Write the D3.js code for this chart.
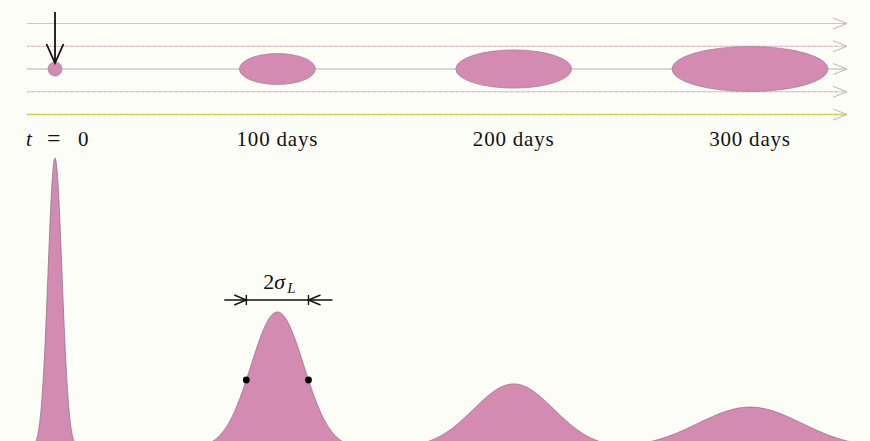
<!DOCTYPE html>
<html>
<head>
<meta charset="utf-8">
<script src="https://cdn.jsdelivr.net/npm/d3@7"></script>
<style>
  body { margin: 0; background: #fdfdf8; }
  svg { display: block; }
</style>
</head>
<body>
<svg id="chart" width="870" height="441"></svg>
<script>
// plume snapshots
const days = [0, 100, 200, 300];
const labels = ["t = 0", "100 days", "200 days", "300 days"];
const position = [0, 96, 198, 300];          // centre of plume, distance units
const plumeHalfLength = [3.0, 16.4, 25.0, 33.7];
const plumeHalfWidth = [0.31, 0.68, 0.84, 0.99];
// concentration profiles along the centre line
const peakConc = [1.0, 0.469, 0.221, 0.141];
const sigmaL = [3.0, 11.4, 17.3, 22.3];
// streamlines (lateral offset)
const flowLines = [-2, -1, 0, 1, 2];

var svg = d3.select("#chart"),
    width = +svg.attr("width"),
    height = +svg.attr("height");

var pink = "#d48bb2";

var x = d3.scaleLinear().domain([0, 300]).range([55, 750]);
var pxPerUnit = x(1) - x(0);
var yT = d3.scaleLinear().domain([-2, 2]).range([23.5, 114.5]);   // top panel, lateral
var yC = d3.scaleLinear().domain([0, 1]).range([448, 158]);       // bottom panel, concentration

svg.append("rect").attr("width", width).attr("height", height).attr("fill", "#fdfdf8");

// Streamlines
var lineStyle = {
    "-2": { c: "#c6c6c6", dash: null, over: null },
    "-1": { c: "#d2c6cc", dash: null, over: "#eaa2c4" },
    "0": { c: "#b4b4b4", dash: null, over: null },
    "1": { c: "#d2c6cc", dash: null, over: "#eaa2c4" },
    "2": { c: "#dcd060", dash: null, over: "#c8bc30" }
};
var x0 = 27, x1 = 847;
var flow = svg.selectAll(".flow")
    .data(flowLines)
    .enter().append("g")
    .attr("class", "flow");

flow.append("line")
    .attr("x1", x0).attr("x2", x1)
    .attr("y1", d => yT(d)).attr("y2", d => yT(d))
    .attr("stroke", d => lineStyle[d].c)
    .attr("stroke-width", d => d == 2 ? 1.6 : 1.2);

flow.filter(d => lineStyle[d].over)
    .append("line")
    .attr("x1", x0).attr("x2", x1 - 2)
    .attr("y1", d => yT(d)).attr("y2", d => yT(d))
    .attr("stroke", d => lineStyle[d].over)
    .attr("stroke-width", 1)
    .attr("stroke-dasharray", "1.5,4");

flow.append("path")
    .attr("d", d => `M${x1 - 14},${yT(d) - 5.5}L${x1},${yT(d)}L${x1 - 14},${yT(d) + 5.5}`)
    .attr("fill", "none")
    .attr("stroke", "#bdb6ba")
    .attr("stroke-width", 1);

// Plumes
svg.selectAll(".plume")
    .data(days)
    .enter().append("ellipse")
    .attr("class", "plume")
    .attr("cx", (d, i) => x(position[i]))
    .attr("cy", yT(0))
    .attr("rx", (d, i) => plumeHalfLength[i] * pxPerUnit)
    .attr("ry", (d, i) => (yT(plumeHalfWidth[i]) - yT(0)))
    .attr("fill", pink)
    .attr("stroke", "#a07c90")
    .attr("stroke-width", 0.7);

// Injection arrow
var ax = x(position[0]);
svg.append("line")
    .attr("x1", ax).attr("x2", ax)
    .attr("y1", 12).attr("y2", 63)
    .attr("stroke", "#111").attr("stroke-width", 1.8);
svg.append("path")
    .attr("d", `M${ax - 8.5},44L${ax},63L${ax + 8.5},44`)
    .attr("fill", "none").attr("stroke", "#111").attr("stroke-width", 1.8);

// Labels
var serif = "'Liberation Serif', 'Times New Roman', serif";
var t0 = svg.append("text")
    .attr("y", 146)
    .attr("font-family", serif)
    .attr("font-size", 21)
    .attr("fill", "#111");
t0.append("tspan").attr("x", 26).attr("font-style", "italic").text("t");
t0.append("tspan").attr("x", 47).attr("font-size", 24).text("=");
t0.append("tspan").attr("x", 78).text("0");

svg.selectAll(".tlabel")
    .data(labels.slice(1))
    .enter().append("text")
    .attr("class", "tlabel")
    .attr("x", (d, i) => x(position[i + 1]))
    .attr("y", 146)
    .attr("text-anchor", "middle")
    .attr("font-family", serif)
    .attr("font-size", 21)
    .attr("letter-spacing", 0.8)
    .attr("fill", "#111")
    .text(d => d);

// Concentration profiles
var area = d3.area()
    .x(d => x(d[0]))
    .y0(yC(0))
    .y1(d => yC(d[1]));

var profiles = days.map(function (d, i) {
    var s = sigmaL[i], m = position[i];
    return d3.range(m - 5 * s, m + 5 * s + 0.01, s / 40).map(u =>
        [u, peakConc[i] * Math.exp(-((u - m) * (u - m)) / (2 * s * s))]);
});

svg.selectAll(".profile")
    .data(profiles)
    .enter().append("path")
    .attr("class", "profile")
    .attr("d", area)
    .attr("fill", pink)
    .attr("stroke", "#8e7282")
    .attr("stroke-width", 0.8);

// 2 sigma_L annotation on the 100 day profile (half maximum points)
var k = 1, hw = sigmaL[k] * Math.sqrt(2 * Math.log(2));
var xl = x(position[k] - hw), xr = x(position[k] + hw);
var yHalf = yC(peakConc[k] / 2);

svg.selectAll(".hm")
    .data([xl, xr])
    .enter().append("circle")
    .attr("cx", d => d).attr("cy", yHalf)
    .attr("r", 3.4).attr("fill", "#000");

var ya = 300;
var ann = svg.append("g").attr("stroke", "#111").attr("stroke-width", 1.4).attr("fill", "none");
ann.append("line").attr("x1", xl - 22).attr("x2", xr + 24).attr("y1", ya).attr("y2", ya);
ann.append("line").attr("x1", xl).attr("x2", xl).attr("y1", ya - 5).attr("y2", ya + 5);
ann.append("line").attr("x1", xr).attr("x2", xr).attr("y1", ya - 5).attr("y2", ya + 5);
ann.append("path").attr("d", `M${xl - 12},${ya - 5}L${xl},${ya}L${xl - 12},${ya + 5}`);
ann.append("path").attr("d", `M${xr + 12},${ya - 5}L${xr},${ya}L${xr + 12},${ya + 5}`);

var sl = svg.append("text")
    .attr("x", (xl + xr) / 2 + 2)
    .attr("y", 289)
    .attr("text-anchor", "middle")
    .attr("font-family", serif)
    .attr("font-size", 22)
    .attr("fill", "#111");
sl.append("tspan").text("2");
sl.append("tspan").attr("font-style", "italic").text("σ");
sl.append("tspan").attr("font-style", "italic").attr("font-size", 15).attr("dx", 2).attr("dy", 4).text("L");
</script>
</body>
</html>
